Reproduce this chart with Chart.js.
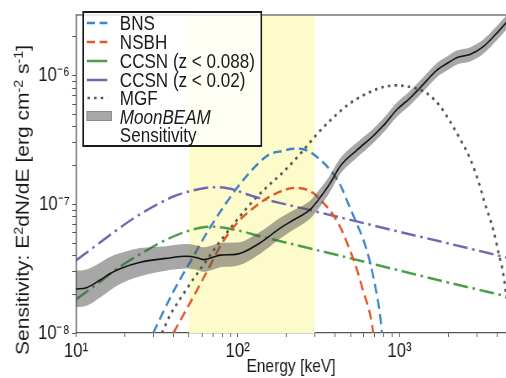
<!DOCTYPE html>
<html>
<head>
<meta charset="utf-8">
<script src="https://cdn.jsdelivr.net/npm/chart.js@4.4.1/dist/chart.umd.min.js"></script>
<style>
html,body{margin:0;padding:0;background:#fff;overflow:hidden;width:506px;height:378px;}
#wrap{position:absolute;left:0;top:0;width:602px;height:378px;transform:scaleX(0.8405);transform-origin:0 0;}
#c{position:absolute;left:0;top:0;}
#ytitle{position:absolute;left:-142.6px;top:187px;width:340px;height:26px;line-height:26px;text-align:center;
  transform:rotate(-90deg);font-family:'Liberation Sans',Arial,sans-serif;font-size:21px;color:#1a1a1a;white-space:nowrap;}
sup{font-size:0.68em;vertical-align:0;position:relative;top:-0.5em;}
#legend{position:absolute;left:97.6px;top:11px;width:214px;height:136px;box-sizing:border-box;border:2px solid #1a1a1a;
  background:rgba(255,255,255,0.82);font-family:'Liberation Sans',Arial,sans-serif;font-size:20.3px;color:#1a1a1a;}
.row{position:absolute;left:43px;height:20px;line-height:20px;white-space:nowrap;}
.sw{position:absolute;left:3.6px;width:25px;height:8px;}
</style>
</head>
<body>
<div id="wrap">
  <canvas id="c" width="602" height="378"></canvas>
  <div id="ytitle">Sensitivity: E<sup>2</sup>dN/dE [erg cm<sup>-2</sup> s<sup>-1</sup>]</div>
  <div id="legend">
    <svg class="sw" style="top:6px" viewBox="0 0 25 8"><line x1="0" y1="4" x2="25" y2="4" stroke="#3A86C6" stroke-width="2.5" stroke-dasharray="10 5.5"/></svg>
    <div class="row" style="top:0px">BNS</div>
    <svg class="sw" style="top:25px" viewBox="0 0 25 8"><line x1="0" y1="4" x2="25" y2="4" stroke="#E0582A" stroke-width="2.5" stroke-dasharray="10 5.5"/></svg>
    <div class="row" style="top:19px">NSBH</div>
    <svg class="sw" style="top:44px" viewBox="0 0 25 8"><line x1="0" y1="4" x2="25" y2="4" stroke="#4A9E4A" stroke-width="2.5"/></svg>
    <div class="row" style="top:38px">CCSN (z &lt; 0.088)</div>
    <svg class="sw" style="top:63px" viewBox="0 0 25 8"><line x1="0" y1="4" x2="25" y2="4" stroke="#7466B2" stroke-width="2.5"/></svg>
    <div class="row" style="top:57px">CCSN (z &lt; 0.02)</div>
    <svg class="sw" style="top:81px" viewBox="0 0 25 8"><line x1="1" y1="4" x2="25" y2="4" stroke="#555" stroke-width="2.6" stroke-dasharray="3 4.9"/></svg>
    <div class="row" style="top:75px">MGF</div>
    <div style="position:absolute;left:3.2px;top:98px;width:29.8px;height:10px;box-sizing:border-box;background:#a8a8a8;border:1px solid #8a8a8a;"></div>
    <div class="row" style="top:94px;font-style:italic">MoonBEAM</div>
    <div class="row" style="top:112px">Sensitivity</div>
  </div>
</div>
<script>
// ---- data (energy in keV, E^2 dN/dE in erg cm^-2 s^-1) ----
const sensE  = [10, 11.6, 14.1, 16.2, 18.7, 25, 36, 48, 56, 61, 71, 78, 99, 137, 183, 221, 280, 313, 372, 429, 544, 689, 800, 962, 1150, 1340, 1700, 2000, 2260, 2730, 3300, 4000, 4600];
const sensF  = [2.20e-8, 2.25e-8, 2.58e-8, 2.89e-8, 3.16e-8, 3.55e-8, 3.80e-8, 3.95e-8, 3.85e-8, 3.72e-8, 3.89e-8, 4.03e-8, 4.10e-8, 5.01e-8, 6.53e-8, 7.55e-8, 9.08e-8, 1.07e-7, 1.45e-7, 1.97e-7, 2.63e-7, 3.41e-7, 4.12e-7, 5.43e-7, 6.61e-7, 8.04e-7, 1.10e-6, 1.26e-6, 1.38e-6, 1.46e-6, 1.68e-6, 2.14e-6, 2.60e-6];
const sensHi = [3.04e-8, 3.11e-8, 3.52e-8, 3.90e-8, 4.16e-8, 4.57e-8, 4.73e-8, 4.92e-8, 4.79e-8, 4.63e-8, 4.84e-8, 5.02e-8, 5.04e-8, 6.09e-8, 7.85e-8, 8.98e-8, 1.067e-7, 1.257e-7, 1.683e-7, 2.27e-7, 3.01e-7, 3.87e-7, 4.68e-7, 6.16e-7, 7.50e-7, 9.13e-7, 1.249e-6, 1.430e-6, 1.566e-6, 1.657e-6, 1.907e-6, 2.429e-6, 2.951e-6];
const sensLo = [1.59e-8, 1.63e-8, 1.89e-8, 2.14e-8, 2.40e-8, 2.76e-8, 3.05e-8, 3.17e-8, 3.09e-8, 2.99e-8, 3.12e-8, 3.24e-8, 3.33e-8, 4.12e-8, 5.43e-8, 6.35e-8, 7.73e-8, 9.11e-8, 1.249e-7, 1.709e-7, 2.30e-7, 3.00e-7, 3.63e-7, 4.78e-7, 5.82e-7, 7.08e-7, 9.69e-7, 1.110e-6, 1.216e-6, 1.286e-6, 1.480e-6, 1.885e-6, 2.291e-6];

const bnsE = [30, 40, 50.7, 64.3, 81.4, 103, 131, 158, 190, 221, 244, 280, 320, 365, 429, 483, 544, 598, 658, 706, 755, 780];
const bnsF = [1.0e-8, 2.1e-8, 3.55e-8, 5.98e-8, 9.5e-8, 1.43e-7, 2.02e-7, 2.45e-7, 2.6e-7, 2.7e-7, 2.7e-7, 2.55e-7, 2.25e-7, 1.91e-7, 1.43e-7, 1.01e-7, 7.1e-8, 5.3e-8, 3.55e-8, 2.36e-8, 1.45e-8, 1.0e-8];

const nsbhE = [40, 50.7, 64.3, 81.4, 103, 131, 155, 190, 221, 250, 294, 330, 372, 429, 483, 544, 598, 658, 690];
const nsbhF = [1.0e-8, 1.71e-8, 2.98e-8, 5.17e-8, 7.55e-8, 9.8e-8, 1.13e-7, 1.28e-7, 1.34e-7, 1.33e-7, 1.22e-7, 1.06e-7, 8.97e-8, 6.71e-8, 4.74e-8, 3.16e-8, 2.1e-8, 1.4e-8, 1.0e-8];

const ccsn1E = [10, 12, 14.1, 17.9, 24.9, 36.4, 48.4, 67.5, 80, 94, 110, 137, 166, 250, 500, 1000, 2000, 4600];
const ccsn1F = [1.82e-8, 2.16e-8, 2.5e-8, 3.16e-8, 4.1e-8, 5.33e-8, 6.16e-8, 6.71e-8, 6.6e-8, 6.38e-8, 6.1e-8, 5.65e-8, 5.33e-8, 4.70e-8, 3.80e-8, 3.06e-8, 2.47e-8, 1.93e-8];

const ccsn2E = [10, 13, 17, 22, 25, 32, 40, 50, 63, 75, 90, 105, 120, 158, 200, 400, 1000, 2000, 4600];
const ccsn2F = [3.66e-8, 4.68e-8, 6.03e-8, 7.59e-8, 8.41e-8, 1.0e-7, 1.15e-7, 1.26e-7, 1.34e-7, 1.36e-7, 1.32e-7, 1.245e-7, 1.17e-7, 1.07e-7, 9.97e-8, 8.09e-8, 6.12e-8, 4.97e-8, 3.86e-8];

const mgfE = [34, 38, 48, 61, 78, 99, 125, 155, 191, 244, 308, 390, 494, 628, 795, 961, 1163, 1476, 1782, 2056, 2370, 2730, 3076, 3381, 3808, 4094, 4400, 4600];
const mgfF = [1.0e-8, 1.36e-8, 2.17e-8, 3.35e-8, 5.17e-8, 7.55e-8, 1.07e-7, 1.4e-7, 1.78e-7, 2.47e-7, 3.49e-7, 4.73e-7, 6.09e-7, 7.26e-7, 8.16e-7, 8.4e-7, 8.16e-7, 7.3e-7, 5.8e-7, 4.4e-7, 3.22e-7, 2.28e-7, 1.51e-7, 1.01e-7, 6.34e-8, 4.23e-8, 2.82e-8, 1.85e-8];

const highlightBand = [50, 300];   // keV
const xRange = [10, 4560];
const yRange = [1e-8, 2.96e-6];

// ---- helpers ----
const pts = (xs, ys) => xs.map((x, i) => ({x: x, y: ys[i]}));
const SUP = {'-':'\u207B','0':'\u2070','1':'\u00B9','2':'\u00B2','3':'\u00B3','4':'\u2074','5':'\u2075','6':'\u2076','7':'\u2077','8':'\u2078','9':'\u2079'};
const decadeLabel = v => {
  const e = Math.round(Math.log10(v));
  if (Math.abs(v / Math.pow(10, e) - 1) > 1e-6) return '';
  return '10' + String(e).split('').map(c => SUP[c]).join('');
};
const logTicks = scale => {
  const t = [];
  const lo = Math.floor(Math.log10(scale.min)), hi = Math.ceil(Math.log10(scale.max));
  for (let e = lo; e <= hi; e++) for (let m = 1; m <= 9; m++) {
    const v = m * Math.pow(10, e);
    if (v >= scale.min * 0.9999 && v <= scale.max * 1.0001) t.push({value: v, major: m === 1});
  }
  scale.ticks = t;
};
const FONT = "'Liberation Sans',Arial,sans-serif";
const line = (label, xs, ys, color, dash, width, order) => ({
  label, data: pts(xs, ys), borderColor: color, borderWidth: width, borderDash: dash,
  borderCapStyle: 'butt', pointRadius: 0, fill: false, order: order, cubicInterpolationMode: 'monotone'
});

const spanPlugin = {
  id: 'span',
  beforeDatasetsDraw(chart) {
    const {ctx, chartArea: a, scales: {x}} = chart;
    const x0 = x.getPixelForValue(highlightBand[0]), x1 = x.getPixelForValue(highlightBand[1]);
    ctx.save();
    ctx.fillStyle = '#FEFBCB';
    ctx.fillRect(x0, a.top, x1 - x0, a.bottom - a.top);
    ctx.restore();
  }
};
const framePlugin = {
  id: 'frame',
  afterDraw(chart) {
    const {ctx, chartArea: a} = chart;
    ctx.save();
    ctx.strokeStyle = '#777';
    ctx.lineWidth = 1.3;
    ctx.beginPath();
    ctx.moveTo(a.left, a.top); ctx.lineTo(a.right + 2, a.top);
    ctx.stroke();
    ctx.restore();
  }
};

new Chart(document.getElementById('c'), {
  type: 'line',
  data: {
    datasets: [
      {label: 'Sensitivity', data: pts(sensE, sensF), borderColor: '#111', borderWidth: 1.6, pointRadius: 0,
       fill: false, order: 0, cubicInterpolationMode: 'monotone'},
      {label: 'band upper', data: pts(sensE, sensHi), borderColor: 'rgba(0,0,0,0)', borderWidth: 0, pointRadius: 0,
       fill: '+1', backgroundColor: 'rgba(80,80,80,0.5)', order: 1, cubicInterpolationMode: 'monotone'},
      {label: 'band lower', data: pts(sensE, sensLo), borderColor: 'rgba(0,0,0,0)', borderWidth: 0, pointRadius: 0,
       fill: false, order: 1, cubicInterpolationMode: 'monotone'},
      line('BNS', bnsE, bnsF, '#3A86C6', [10, 5.5], 2.5, 2),
      line('NSBH', nsbhE, nsbhF, '#E0582A', [10, 5.5], 2.5, 2),
      line('CCSN (z < 0.088)', ccsn1E, ccsn1F, '#4A9E4A', [17.5, 5.5, 3, 5.5], 2.5, 2),
      line('CCSN (z < 0.02)', ccsn2E, ccsn2F, '#7466B2', [17.5, 5.5, 3, 5.5], 2.5, 2),
      line('MGF', mgfE, mgfF, '#555555', [3, 4.9], 2.7, 2)
    ]
  },
  options: {
    responsive: false,
    animation: false,
    devicePixelRatio: 1,
    layout: {padding: {top: 6, right: 0, left: 0, bottom: 0}},
    plugins: {legend: {display: false}, tooltip: {enabled: false}},
    scales: {
      x: {
        type: 'logarithmic', min: xRange[0], max: xRange[1],
        afterBuildTicks: logTicks,
        afterFit: s => { s.height = 45; },
        ticks: {autoSkip: false, maxRotation: 0, padding: 2, color: '#1a1a1a',
                font: {family: FONT, size: 20}, callback: v => decadeLabel(v)},
        grid: {drawOnChartArea: false, tickLength: 4, color: '#555'},
        border: {color: '#555', width: 1.3},
        title: {display: true, text: 'Energy [keV]', color: '#1a1a1a', font: {family: FONT, size: 18.5},
                padding: {top: 0, bottom: 0}}
      },
      y: {
        type: 'logarithmic', min: yRange[0], max: yRange[1],
        afterBuildTicks: logTicks,
        afterFit: s => { s.width = 90.4; },
        ticks: {autoSkip: false, padding: 3, color: '#1a1a1a',
                font: {family: FONT, size: 20}, callback: v => decadeLabel(v)},
        grid: {drawOnChartArea: false, tickLength: 4.5, color: '#555'},
        border: {color: '#555', width: 1.4}
      }
    }
  },
  plugins: [spanPlugin, framePlugin]
});
</script>
</body>
</html>
